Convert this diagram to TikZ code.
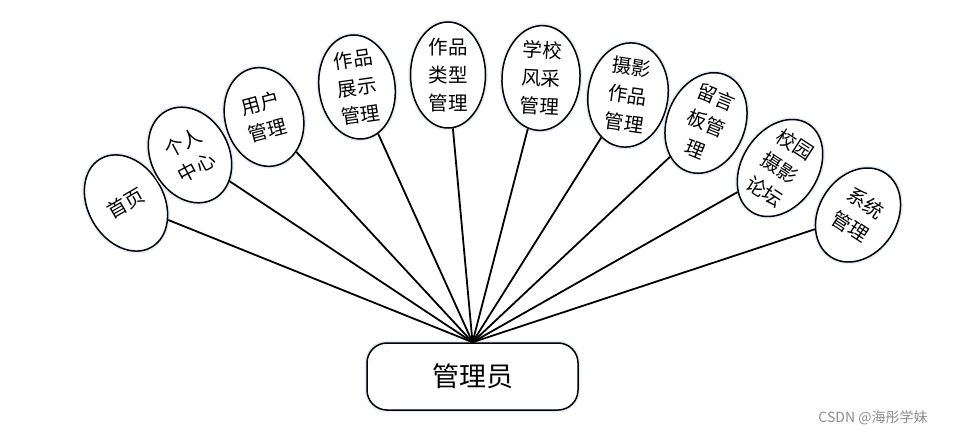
\documentclass[tikz,border=0pt]{standalone}
\usepackage{fontspec}
\setmainfont{Noto Sans CJK SC}
\usetikzlibrary{shapes.geometric}
\definecolor{glow}{RGB}{226,236,250}
\begin{document}
\begin{tikzpicture}[x=1pt,y=-1pt,
  bub/.style={ellipse, draw=black, fill=white, line width=1.5pt, inner sep=0pt, align=center,
    font=\fontsize{19.5}{28}\selectfont, preaction={draw=glow, line width=4.5pt}},
  link/.style={line width=1.8pt, draw=black}]
\useasboundingbox (0,0) rectangle (965,438);
\node[bub, minimum width=76pt, minimum height=102pt, rotate=30] (n1) at (126,203) {首页};
\node[bub, minimum width=78pt, minimum height=100pt, rotate=28] (n2) at (190,155) {个人\\中心};
\node[bub, minimum width=78pt, minimum height=100pt, rotate=15] (n3) at (264,117) {用户\\管理};
\node[bub, minimum width=76pt, minimum height=100pt, rotate=8] (n4) at (357,87) {作品\\展示\\管理};
\node[bub, minimum width=75pt, minimum height=106pt, rotate=0] (n5) at (448,75) {作品\\类型\\管理};
\node[bub, minimum width=78pt, minimum height=103pt, rotate=-3] (n6) at (541,78) {学校\\风采\\管理};
\node[bub, minimum width=80pt, minimum height=104pt, rotate=-8] (n7) at (628,95) {摄影\\作品\\管理};
\node[bub, minimum width=78pt, minimum height=98pt, rotate=-22] (n8) at (706,123) {留言\\板管\\理};
\node[bub, minimum width=76pt, minimum height=100pt, rotate=-33] (n9) at (780,168) {校园\\摄影\\论坛};
\node[bub, minimum width=78pt, minimum height=100pt, rotate=-33] (n10) at (858,215) {系统\\管理};
\node[draw=black, fill=white, rounded corners=20pt, minimum width=211pt, minimum height=67pt,
  line width=1.5pt, preaction={draw=glow, line width=4.5pt}, font=\fontsize{27}{30}\selectfont] (hub) at (472.5,376.5) {管理员};
\foreach \n in {n1,n2,n3,n4,n5,n6,n7,n8,n9,n10}
  \draw[link] (hub.north) -- (\n);
\node[text=black!45, font=\fontsize{14}{16}\selectfont] (wm) at (873,418) {CSDN @海彤学妹};
\end{tikzpicture}
\end{document}
